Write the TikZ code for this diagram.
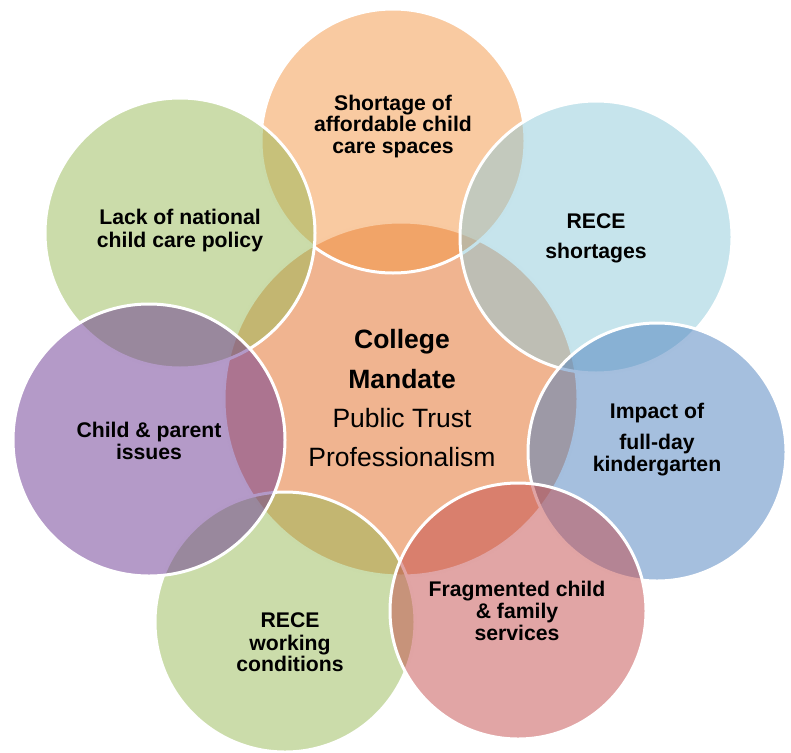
\documentclass[tikz,border=0pt]{standalone}
\usepackage{fontspec}
\setmainfont{Liberation Sans}
\usepackage {tikz}
\usetikzlibrary {positioning}
\definecolor{hubfill}{HTML}{E16921}
\definecolor{peachfill}{HTML}{F39543}
\definecolor{leaffill}{HTML}{97B955}
\definecolor{skyfill}{HTML}{8DC9D9}
\definecolor{seafill}{HTML}{4B7FBD}
\definecolor{rosefill}{HTML}{C34B4B}
\definecolor{plumfill}{HTML}{693591}
\tikzset{
    bubble/.style = {circle,draw=white,line width=3pt,inner sep=0pt,outer sep=0pt,
                     fill opacity=0.5,draw opacity=1},
    lbl/.style = {anchor=base,inner sep=0pt,font=\fontsize{21.2pt}{25pt}\selectfont\bfseries},
    hublbl/.style = {anchor=base,inner sep=0pt,font=\fontsize{26.5pt}{30pt}\selectfont},
    hubbold/.style = {hublbl,font=\fontsize{26.5pt}{30pt}\selectfont\bfseries}}

\begin{document}
\begin{tikzpicture}[x=1pt,y=-1pt]
        \useasboundingbox (0,0) rectangle (791,752);
        % circles, back to front
        \node[bubble,fill=hubfill,minimum size=354pt] (hub) at (401,399) {};
        \node[bubble,fill=peachfill,minimum size=264pt] (spaces) at (393,141) {};
        \node[bubble,fill=leaffill,minimum size=270pt] (policy) at (180,233) {};
        \node[bubble,fill=skyfill,minimum size=272pt] (short) at (596,237) {};
        \node[bubble,fill=seafill,minimum size=258pt] (kinder) at (657,452) {};
        \node[bubble,fill=leaffill,minimum size=260pt] (work) at (285,622) {};
        \node[bubble,fill=rosefill,minimum size=256pt] (frag) at (518,611) {};
        \node[bubble,fill=plumfill,minimum size=272pt] (family) at (149,440) {};
        % labels
        \path (402,348) node[hubbold] (hub1) {College}
        ++ (0,40) node[hubbold] (hub2) {Mandate}
        ++ (0,39) node[hublbl] (hub3) {Public Trust}
        ++ (0,39) node[hublbl] (hub4) {Professionalism};
        \path (393,110) node[lbl] (spaces1) {Shortage of}
        ++ (0,21.5) node[lbl] (spaces2) {affordable child}
        ++ (0,21.5) node[lbl] (spaces3) {care spaces};
        \path (180,224) node[lbl] (policy1) {Lack of national}
        ++ (0,23) node[lbl] (policy2) {child care policy};
        \path (596,228) node[lbl] (short1) {RECE}
        ++ (0,30) node[lbl] (short2) {shortages};
        \path (657,418) node[lbl] (kinder1) {Impact of}
        ++ (0,31) node[lbl] (kinder2) {full-day}
        ++ (0,22) node[lbl] (kinder3) {kindergarten};
        \path (517,596) node[lbl] (frag1) {Fragmented child}
        ++ (0,22.5) node[lbl] (frag2) {\& family}
        ++ (0,21.5) node[lbl] (frag3) {services};
        \path (290,627) node[lbl] (work1) {RECE}
        ++ (0,23) node[lbl] (work2) {working}
        ++ (0,21) node[lbl] (work3) {conditions};
        \path (149,437) node[lbl] (family1) {Child \& parent}
        ++ (0,22) node[lbl] (family2) {issues};
\end{tikzpicture}
\end{document}
